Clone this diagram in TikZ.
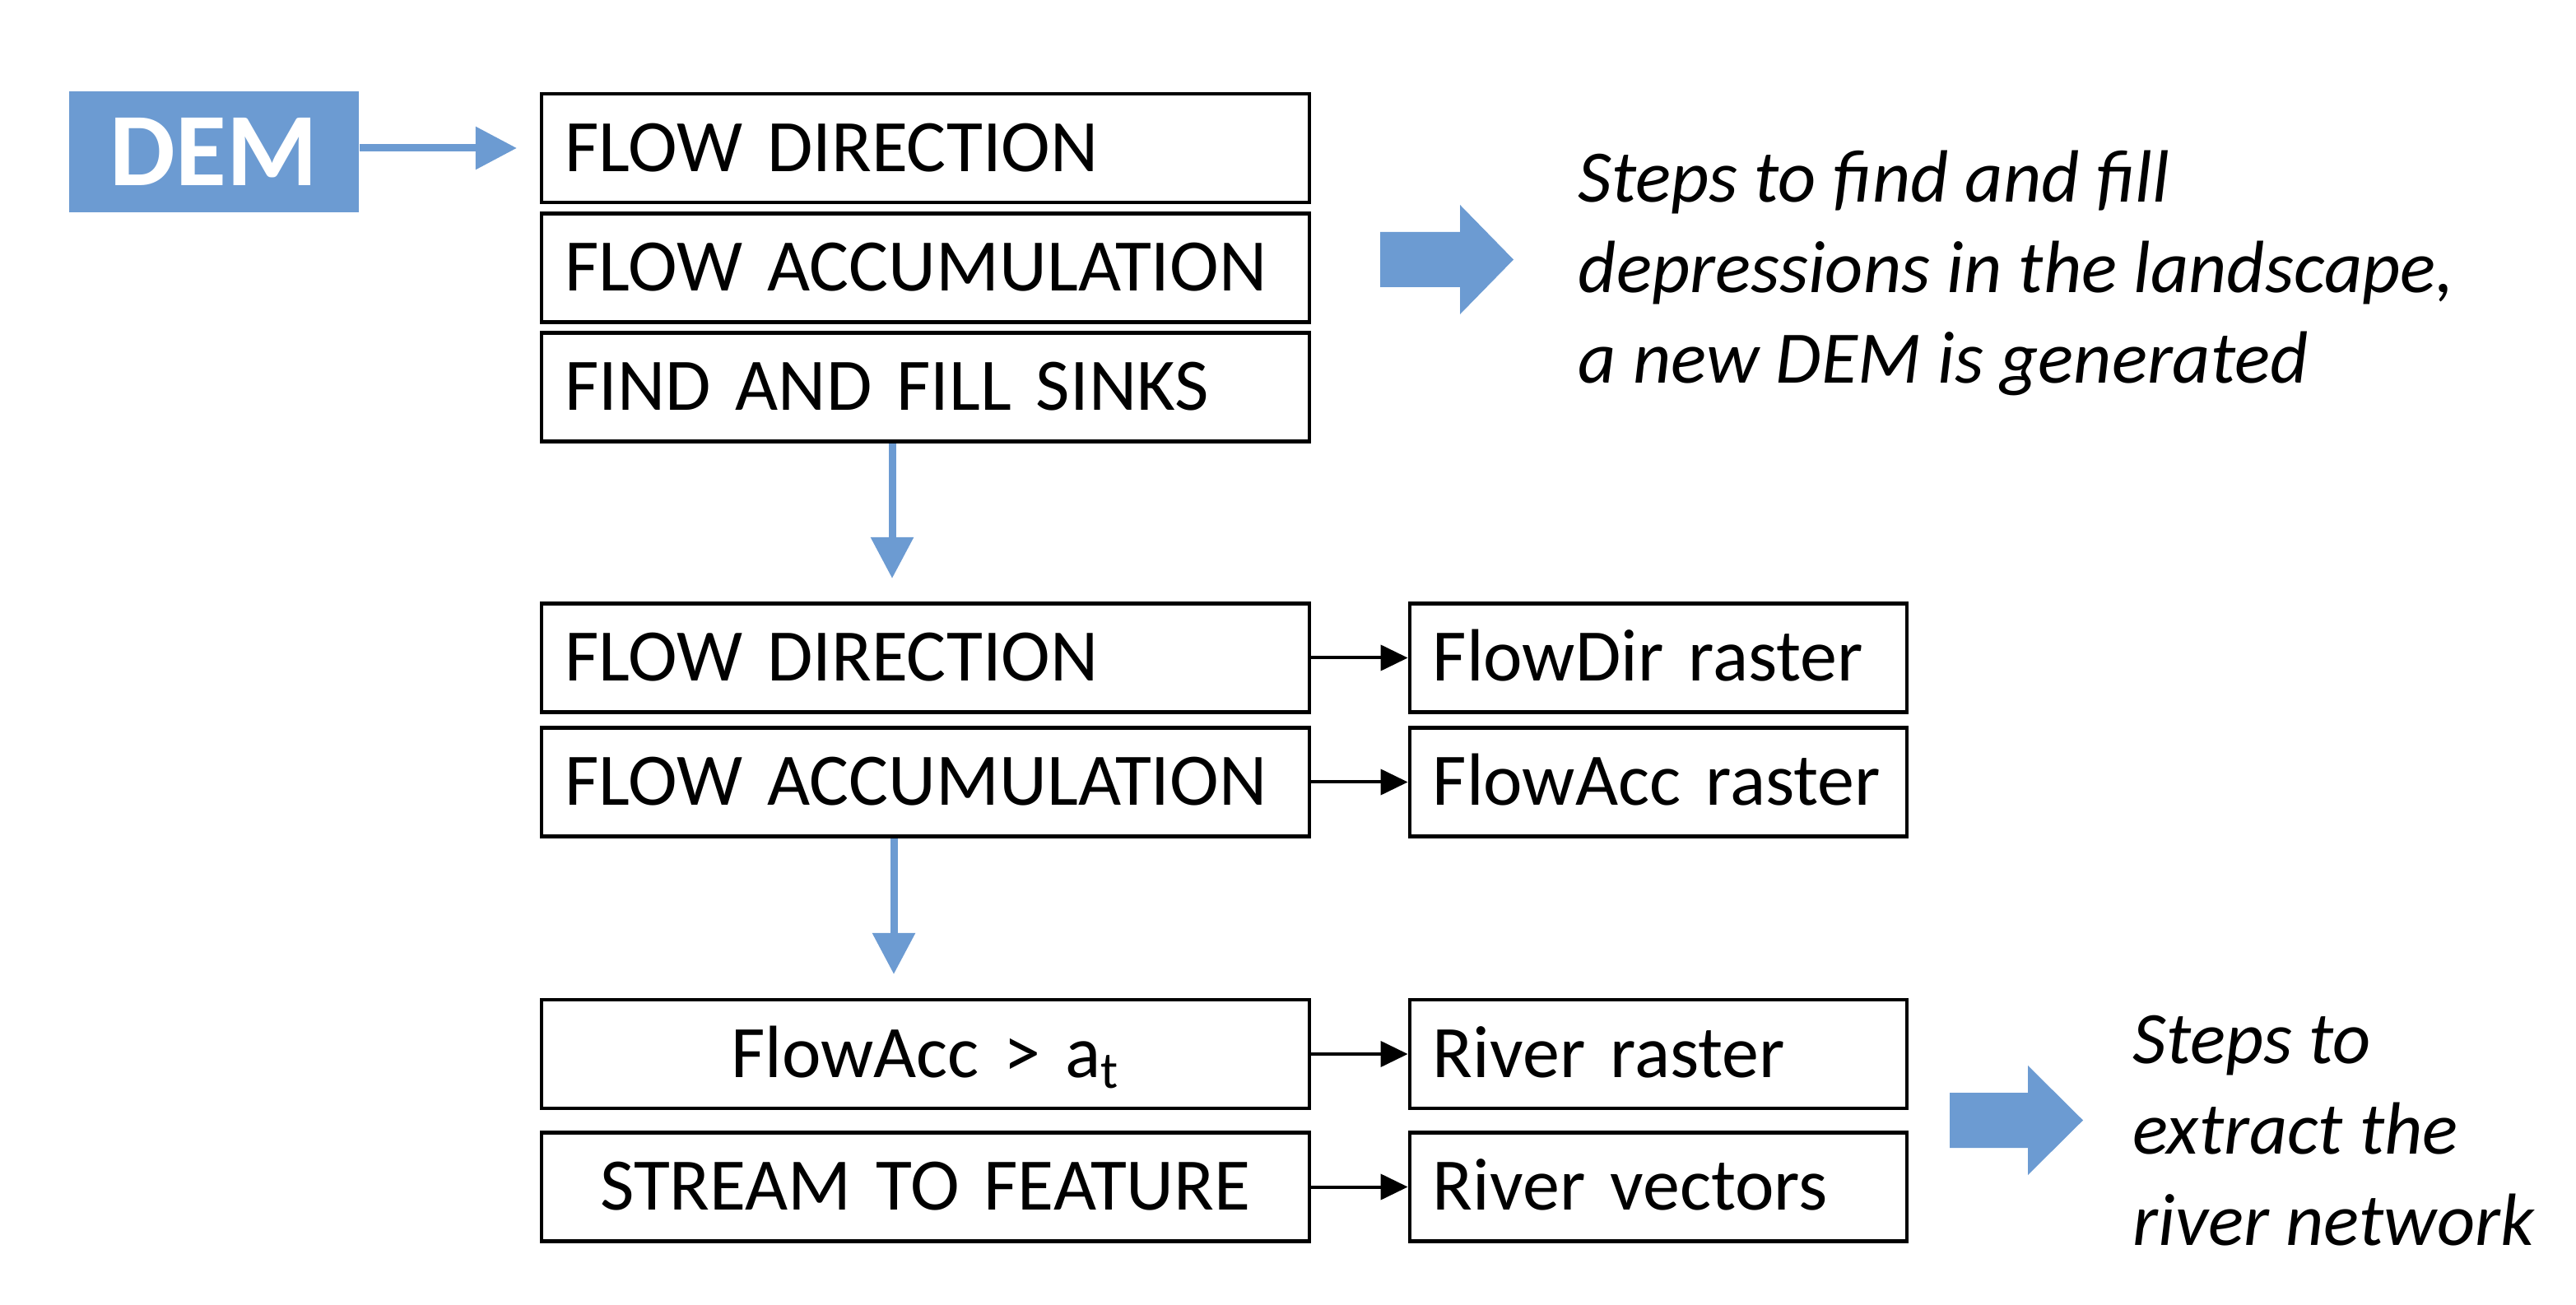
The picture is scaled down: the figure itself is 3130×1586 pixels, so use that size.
\documentclass[tikz,border=0pt]{standalone}
\usepackage{fontspec}
\setmainfont{Carlito}
\usetikzlibrary{arrows.meta}
\definecolor{accent}{RGB}{108,155,210}
\begin{document}
\begin{tikzpicture}[x=0.01cm,y=-0.01cm,
  box/.style={draw=black, line width=0.045cm, minimum height=1.32cm, inner xsep=0.28cm, inner ysep=0pt,
    text height=16.2pt, text depth=0pt, font=\fontsize{25.6}{30.7}\selectfont},
  leftbox/.style={box, minimum width=9.32cm, text width=8.76cm},
  rightbox/.style={box, minimum width=6.04cm, text width=5.48cm, align=left},
  bluearrow/.style={draw=accent, line width=0.09cm, -{Triangle[length=0.5cm,width=0.5cm]}},
  blackarrow/.style={draw=black, line width=0.04cm, -{Triangle[length=0.33cm,width=0.31cm]}},
  note/.style={font=\fontsize{25.6}{31.3}\selectfont\itshape, align=left, anchor=base west, inner sep=0pt},
  blockarrow/.style={fill=accent}
]
\useasboundingbox (0,0) rectangle (3130,1586);
\fill[white] (0,0) rectangle (3130,1586);

\node[fill=accent, minimum width=3.52cm, minimum height=1.47cm, inner sep=0pt, text=white,
  font=\fontsize{36}{43}\selectfont\bfseries] (dem) at (260,184.5) {DEM};

\node[leftbox, align=left] (b1) at (1124.5,180) {FLOW DIRECTION};
\node[leftbox, align=left] (b2) at (1124.5,325.5) {FLOW ACCUMULATION};
\node[leftbox, align=left] (b3) at (1124.5,470.5) {FIND AND FILL SINKS};
\node[leftbox, align=left] (b4) at (1124.5,799.5) {FLOW DIRECTION};
\node[leftbox, align=left] (b5) at (1124.5,950.5) {FLOW ACCUMULATION};
\node[leftbox, align=center] (b6) at (1124.5,1281) {FlowAcc > a\textsubscript{t}};
\node[leftbox, align=center] (b7) at (1124.5,1442.5) {STREAM TO FEATURE};

\node[rightbox] (r1) at (2015,799.5) {FlowDir raster};
\node[rightbox] (r2) at (2015,950.5) {FlowAcc raster};
\node[rightbox] (r3) at (2015,1281) {River raster};
\node[rightbox] (r4) at (2015,1442.5) {River vectors};

\draw[bluearrow, shorten >=0.28cm] (dem.east |- b1.west) -- (b1.west);
\coordinate (t1) at (1084,703);
\draw[bluearrow] (b3.south -| t1) -- (t1);
\coordinate (t2) at (1086,1184);
\draw[bluearrow] (b5.south -| t2) -- (t2);

\draw[blackarrow] (b4) -- (r1);
\draw[blackarrow] (b5) -- (r2);
\draw[blackarrow] (b6) -- (r3);
\draw[blackarrow] (b7) -- (r4);

\fill[blockarrow] (1677,282) -- (1774,282) -- (1774,249) -- (1839,315.5) -- (1774,382) -- (1774,349) -- (1677,349) -- cycle;
\fill[blockarrow] (2369,1328) -- (2464,1328) -- (2464,1295) -- (2531,1361.5) -- (2464,1428) -- (2464,1395) -- (2369,1395) -- cycle;

\node[note] (n1) at (1917,466) {Steps to find and fill\\depressions in the landscape,\\a new DEM is generated};
\node[note] (n2) at (2591,1513) {Steps to\\extract the\\river network};
\end{tikzpicture}
\end{document}
